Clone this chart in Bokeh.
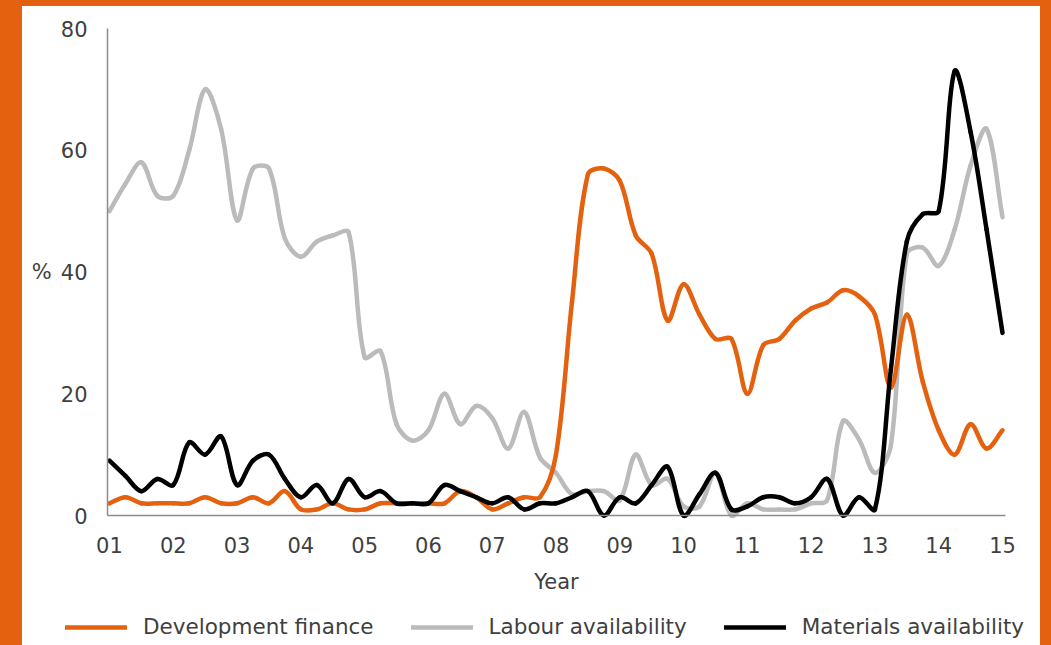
import math
from bokeh.plotting import figure
from bokeh.models import Range1d, FixedTicker, Legend, LegendItem, ColumnDataSource
from bokeh.embed import file_html
from bokeh.resources import INLINE

# ---------------- data (quarterly, 2001 Q1 .. 2015 Q1) ----------------
dev_finance = [2, 3, 2, 2, 2, 2, 3, 2, 2, 3, 2, 4, 1, 1, 2, 1,
               1, 2, 2, 2, 2, 2, 4, 3, 1, 2, 3, 3, 10, 35, 56, 57,
               55, 46, 43, 32, 38, 33, 29, 29, 20, 28, 29, 32, 34, 35, 37, 36,
               33, 21, 33, 22, 14, 10, 15, 11, 14]
labour = [50, 54.5, 58, 52.5, 52.5, 60, 70, 63.5, 48.5, 57, 57, 45.5, 42.5, 45, 46, 46.5,
          26, 27, 15, 12.3, 14, 20, 15, 18, 16, 11, 17, 9.5, 7, 3.5, 4, 4,
          2.5, 10, 5, 6, 1.5, 1.5, 7, 0, 2, 1, 1, 1, 2, 2.5, 15.5, 12.5,
          7, 11.5, 43, 44, 41, 47, 57.5, 63.5, 49]
materials = [9, 6.5, 4, 6, 5, 12, 10, 13, 5, 9, 10, 6, 3, 5, 2, 6,
             3, 4, 2, 2, 2, 5, 4, 3, 2, 3, 1, 2, 2, 3, 4, 0,
             3, 2, 5, 8, 0, 3.5, 7, 1, 1.5, 3, 3, 2, 3, 6, 0, 3,
             1, 24, 45, 49.5, 50, 73, 63, 47, 30]
year_ticks = list(range(1, 16))
year_labels = ["01", "02", "03", "04", "05", "06", "07", "08", "09", "10",
               "11", "12", "13", "14", "15"]
y_ticks = [0, 20, 40, 60, 80]
series_names = ["Development finance", "Labour availability", "Materials availability"]

quarters = [1 + q / 4 for q in range(len(dev_finance))]

ORANGE = "#E4620F"
GREY = "#BBBBBB"
BLACK = "#000000"
TEXT = "#3F3F3F"
AXIS = "#8C8C8C"
FONT = "DejaVu Sans"

W, H = 1051, 645
# plotting area (axes box) inside the canvas, in pixels
AX_L, AX_R, AX_T, AX_B = 107, 1005, 28, 515
X0, X1 = 0.969, 15.047          # x values at the axes box edges
Y0, Y1 = 0, 80
PX_X = (AX_R - AX_L) / (X1 - X0)
PX_Y = (AX_B - AX_T) / (Y1 - Y0)


def smooth_segments(xs, ys):
    """Cubic Bezier segments through the data points (Excel-like smoothing,
    control-point length scaled by neighbouring chord lengths in screen space)."""
    n = len(xs)

    def dist(a, b):
        return math.hypot((xs[b] - xs[a]) * PX_X, (ys[b] - ys[a]) * PX_Y)

    d = {k: [] for k in ("x0", "y0", "x1", "y1", "cx0", "cy0", "cx1", "cy1")}
    for i in range(n - 1):
        pm, pp = max(i - 1, 0), min(i + 2, n - 1)
        d01, d12, d23 = dist(pm, i), dist(i, i + 1), dist(i + 1, pp)
        f1 = d12 / (d01 + d12) / 3 if d01 + d12 > 0 else 0
        f2 = d12 / (d12 + d23) / 3 if d12 + d23 > 0 else 0
        d["x0"].append(xs[i]); d["y0"].append(ys[i])
        d["x1"].append(xs[i + 1]); d["y1"].append(ys[i + 1])
        d["cx0"].append(xs[i] + (xs[i + 1] - xs[pm]) * f1)
        d["cy0"].append(ys[i] + (ys[i + 1] - ys[pm]) * f1)
        d["cx1"].append(xs[i + 1] - (xs[pp] - xs[i]) * f2)
        d["cy1"].append(ys[i + 1] - (ys[pp] - ys[i]) * f2)
    return ColumnDataSource(d)


# frame covers the whole canvas; axes are pinned at fixed data locations
x_range = Range1d(X0 - AX_L / PX_X, X1 + (W - AX_R) / PX_X)
y_range = Range1d(Y0 - (H - AX_B) / PX_Y, Y1 + AX_T / PX_Y)

p = figure(width=W, height=H, output_backend="svg", toolbar_location=None,
           x_range=x_range, y_range=y_range)
p.min_border = 0
p.background_fill_alpha = 0
p.border_fill_alpha = 0
p.outline_line_color = None
p.grid.visible = False
p.styles = {"background-color": "white",
            "box-shadow": f"inset 22px 6px 0 0 {ORANGE}, inset -11px 0 0 0 {ORANGE}"}

renderers = {}
for name, vals, col in [(series_names[1], labour, GREY),
                        (series_names[0], dev_finance, ORANGE),
                        (series_names[2], materials, BLACK)]:
    src = smooth_segments(quarters, vals)
    renderers[name] = p.bezier(x0="x0", y0="y0", x1="x1", y1="y1",
                               cx0="cx0", cy0="cy0", cx1="cx1", cy1="cy1",
                               source=src, line_color=col, line_width=4.5,
                               line_cap="round")

# axes
for ax in (p.xaxis[0], p.yaxis[0]):
    ax.axis_line_color = AXIS
    ax.axis_line_width = 1.5
    ax.major_tick_line_color = None
    ax.minor_tick_line_color = None
    ax.major_tick_out = 0
    ax.major_tick_in = 0
    ax.minor_tick_out = 0
    ax.minor_tick_in = 0
    ax.major_label_text_font = FONT
    ax.major_label_text_font_size = "21px"
    ax.major_label_text_color = TEXT
    ax.axis_label_text_font = FONT
    ax.axis_label_text_font_size = "21px"
    ax.axis_label_text_color = TEXT
    ax.axis_label_text_font_style = "normal"

p.xaxis.ticker = FixedTicker(ticks=year_ticks)
p.xaxis.major_label_overrides = {t: l for t, l in zip(year_ticks, year_labels)}
p.xaxis.major_label_standoff = 21
p.xaxis.axis_label = "Year"
p.xaxis.axis_label_standoff = 14
p.xaxis.fixed_location = Y0
p.xaxis.bounds = (X0, X1)

p.yaxis.ticker = FixedTicker(ticks=y_ticks)
p.yaxis.major_label_standoff = 20
p.yaxis.axis_label = "%"
p.yaxis.axis_label_orientation = "horizontal"
p.yaxis.axis_label_standoff = 6
p.yaxis.fixed_location = X0
p.yaxis.bounds = (Y0, Y1)

legend = Legend(items=[LegendItem(label=n, renderers=[renderers[n]]) for n in series_names],
                orientation="horizontal", location=(65, 6),
                glyph_width=62, glyph_height=20, label_height=20,
                label_standoff=16, spacing=37, padding=0, margin=0,
                border_line_color=None, background_fill_alpha=0,
                label_text_font=FONT, label_text_font_size="21.5px",
                label_text_color=TEXT)
p.add_layout(legend)

open("out.html", "w").write(file_html(p, INLINE))
